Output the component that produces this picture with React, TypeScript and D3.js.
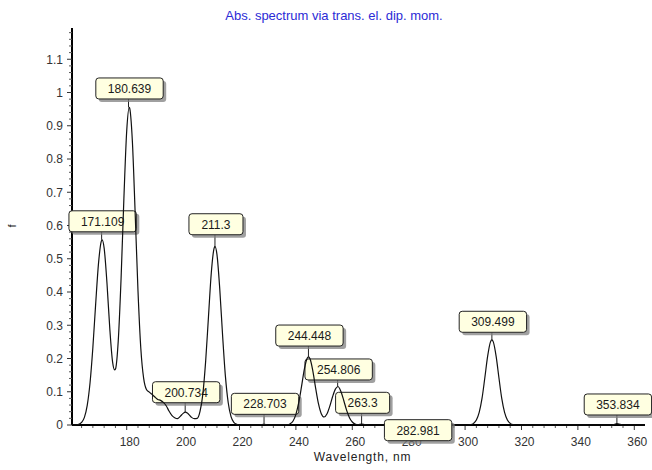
import React from "react";
import * as d3 from "d3";

// Spectrum: [wavelength nm, f]
const spectrum: [number, number][] = [
  [160.6, 0], [162, 0.0005], [163, 0.002], [164, 0.008], [165, 0.023], [166, 0.059],
  [167, 0.127], [168, 0.233], [169, 0.365], [170, 0.486], [171, 0.553], [171.3, 0.557],
  [172, 0.532], [173, 0.427], [174, 0.29], [175, 0.189], [175.7, 0.166], [176, 0.168],
  [177, 0.253], [178, 0.44], [179, 0.681], [180, 0.884], [180.9, 0.955], [181, 0.954],
  [182, 0.855], [183, 0.637], [184, 0.404], [185, 0.231], [186, 0.141], [187, 0.107],
  [188, 0.099], [189, 0.092], [190, 0.084], [191, 0.077], [192, 0.074], [193, 0.068],
  [194, 0.058], [195, 0.042], [196, 0.029], [197, 0.022], [198, 0.019], [199, 0.026],
  [200, 0.035], [200.8, 0.039], [201.5, 0.036], [202, 0.032], [203, 0.023], [204, 0.019],
  [205, 0.02], [206, 0.041], [207, 0.093], [208, 0.192], [209, 0.326], [210, 0.458],
  [211, 0.532], [211.3, 0.537], [212, 0.513], [213, 0.409], [214, 0.27], [215, 0.147],
  [216, 0.067], [217, 0.025], [218, 0.008], [219, 0.002], [220, 0], [227, 0],
  [228.7, 0.002], [230, 0], [237, 0.001], [238, 0.004], [239, 0.012], [240, 0.032],
  [241, 0.067], [242, 0.116], [243, 0.168], [244, 0.201], [244.45, 0.205], [245, 0.199],
  [246, 0.163], [247, 0.111], [248, 0.064], [249, 0.034], [250, 0.024], [251, 0.033],
  [252, 0.056], [253, 0.085], [254, 0.108], [254.8, 0.115], [255, 0.115], [256, 0.1],
  [257, 0.073], [258, 0.044], [259, 0.022], [260, 0.009], [261, 0.003], [262, 0.001],
  [263.3, 0.003], [264.5, 0.001], [266, 0], [301, 0], [302, 0.001], [303, 0.005],
  [304, 0.015], [305, 0.038], [306, 0.08], [307, 0.142], [308, 0.207], [309, 0.25],
  [309.5, 0.256], [310, 0.25], [311, 0.207], [312, 0.142], [313, 0.08], [314, 0.038],
  [315, 0.015], [316, 0.005], [317, 0.001], [318, 0], [352, 0], [353, 0.002],
  [353.8, 0.004], [355, 0.002], [356, 0], [363.8, 0],
];

const peakLabels = [
  "171.109", "180.639", "200.734", "211.3", "228.703", "244.448",
  "254.806", "263.3", "282.981", "309.499", "353.834",
];
const peakWavelengths = [
  171.109, 180.639, 200.734, 211.3, 228.703, 244.448, 254.806, 263.3, 282.981, 309.499, 353.834,
];
// layout: gap (px) between box bottom and curve; negative = box below
const labelGaps = [8, 8.5, 9.3, 11.7, 10, 10.8, 6.8, 10.7, -15.7, 7.6, 8.7];

const xMajorTicks = [180, 200, 220, 240, 260, 280, 300, 320, 340, 360];
const yMajorTicks = [0, 0.1, 0.2, 0.3, 0.4, 0.5, 0.6, 0.7, 0.8, 0.9, 1, 1.1];

const title = "Abs. spectrum via trans. el. dip. mom.";
const xTitle = "Wavelength, nm";
const yTitle = "f";

const W = 652;
const H = 470;
const FONT = "'Liberation Sans', Arial, sans-serif";

export default function App() {
  const x = d3.scaleLinear().domain([160.6, 363.8]).range([72, 645]);
  const y = d3.scaleLinear().domain([0, 1.194]).range([425, 28]);

  const line = d3
    .line<[number, number]>()
    .x((d) => x(d[0]))
    .y((d) => y(d[1]))
    .curve(d3.curveMonotoneX);

  const xMinor = d3.range(164, 362, 4).filter((v) => v % 20 !== 0);
  const yMinor = d3.range(0, 60).map((i) => +(i * 0.02).toFixed(2)).filter(
    (v) => Math.abs(v * 10 - Math.round(v * 10)) > 1e-6
  );

  const textW = (s: string) => {
    let w = 0;
    for (const c of s) w += c === "." ? 3.336 : 6.674;
    return w;
  };

  const boxes = peakLabels.map((lab, i) => {
    const wl = peakWavelengths[i];
    const near = spectrum.filter((p) => Math.abs(p[0] - wl) <= 0.8);
    const f = near.length ? d3.max(near, (p) => p[1])! : 0;
    const py = y(f);
    const gap = labelGaps[i];
    const bottom = py - gap;
    const h = 21;
    const w = textW(lab) + 24;
    const cx = x(wl) + 1;
    return { lab, wl, py, bottom, top: bottom - h, h, w, cx, below: gap < 0 };
  });

  const renderBox = (b: (typeof boxes)[number], i: number) => (
    <g key={"box" + i}>
      {!b.below && (
        <line x1={x(b.wl)} x2={x(b.wl)} y1={b.bottom} y2={b.py} stroke="#222" strokeWidth={1} />
      )}
      <rect x={b.cx - b.w / 2 + 3} y={b.top + 3} width={b.w} height={b.h} rx={3} fill="#808080" opacity={0.75} />
      <rect x={b.cx - b.w / 2} y={b.top} width={b.w} height={b.h} rx={3} fill="#ffffe1" stroke="#222" strokeWidth={1} />
      <text x={b.cx} y={b.top + b.h / 2 + 4.3} textAnchor="middle" fontSize={12} fontFamily={FONT} fill="#1a1a1a">
        {b.lab}
      </text>
    </g>
  );

  return (
    <svg width={W} height={H} style={{ position: "absolute", left: 0, top: 0, background: "#fff" }}>
      <rect x={0} y={0} width={W} height={H} fill="#fff" />
      <text x={334} y={20} textAnchor="middle" fontSize={13} fontFamily={FONT} fill="#2b2bd6">
        {title}
      </text>

      {/* y axis */}
      <line x1={72} x2={72} y1={y(1.194)} y2={y(0)} stroke="#000" strokeWidth={2} />
      {yMinor.map((v) => (
        <line key={"ym" + v} x1={69} x2={72} y1={y(v)} y2={y(v)} stroke="#555" strokeWidth={1} />
      ))}
      {yMajorTicks.map((v) => (
        <g key={"yt" + v}>
          <line x1={67} x2={72} y1={y(v)} y2={y(v)} stroke="#333" strokeWidth={1} />
          <text x={63} y={y(v) + 4.3} textAnchor="end" fontSize={12} fontFamily={FONT} fill="#333">
            {String(+v.toFixed(1))}
          </text>
        </g>
      ))}

      {/* x axis */}
      {xMinor.map((v) => (
        <line key={"xm" + v} x1={x(v)} x2={x(v)} y1={425} y2={428} stroke="#555" strokeWidth={1} />
      ))}
      {xMajorTicks.map((v) => (
        <g key={"xt" + v}>
          <line x1={x(v)} x2={x(v)} y1={425} y2={430} stroke="#333" strokeWidth={1} />
          <text x={x(v) + 3} y={446} textAnchor="middle" fontSize={12} fontFamily={FONT} fill="#333">
            {v}
          </text>
        </g>
      ))}
      <line x1={72} x2={645} y1={425} y2={425} stroke="#000" strokeWidth={2} />

      <text x={362.5} y={461} textAnchor="middle" fontSize={12} letterSpacing={0.8} fontFamily={FONT} fill="#222">
        {xTitle}
      </text>
      <text
        transform={`translate(16,226) rotate(-90)`}
        textAnchor="middle"
        fontSize={11}
        fontFamily={FONT}
        fill="#222"
      >
        {yTitle}
      </text>

      {boxes.filter((b) => !b.below).map(renderBox)}
      <path d={line(spectrum) || ""} fill="none" stroke="#111" strokeWidth={1.2} />
      {boxes.filter((b) => b.below).map(renderBox)}
    </svg>
  );
}
